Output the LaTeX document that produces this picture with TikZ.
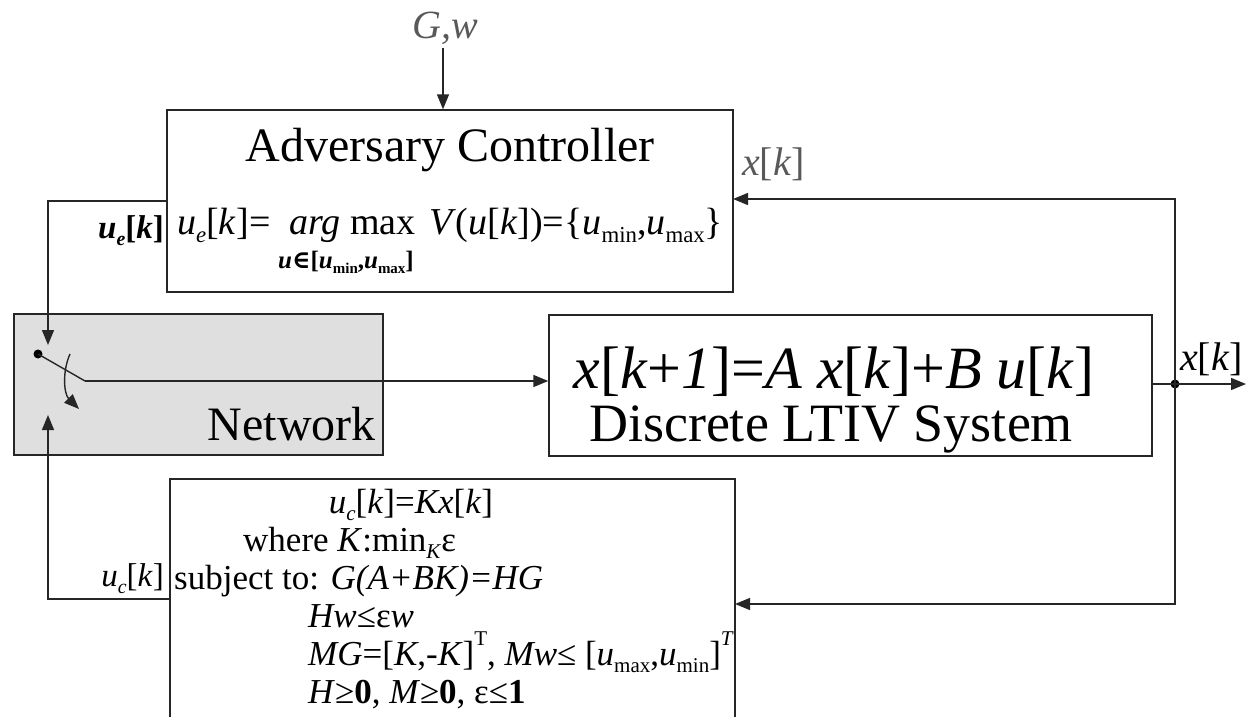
\documentclass[tikz,border=0pt]{standalone}
\usepackage{fontspec}
\usepackage{graphicx}
\setmainfont{Liberation Serif}
\newfontfamily\symfont{DejaVu Serif}
\usetikzlibrary{arrows.meta}
% lowered / raised small text for indices
\newcommand\lo[1]{\raisebox{-0.22em}{\scalebox{0.6}{#1}}}
\newcommand\hi[1]{\raisebox{0.55em}{\scalebox{0.6}{#1}}}
\newcommand\fs[1]{\fontsize{#1}{#1}\selectfont}
\newcommand\vi[1]{\textit{#1}}

\begin{document}
\begin{tikzpicture}[x=1pt,y=-1pt,
  line/.style={draw=black!85, line width=1.4pt},
  arr/.style={line, -{Triangle[length=15pt,width=12pt]}},
  box/.style={draw=black!85, line width=1.4pt, rectangle, inner sep=0pt},
  txt/.style={inner sep=0pt, anchor=base},
  lbl/.style={inner sep=0pt, text=black!65},
  jdot/.style={circle, fill=black, inner sep=0pt, minimum size=9pt},
]
\useasboundingbox (0,0) rectangle (1247,717);
\clip (0,0) rectangle (1247,717);

% blocks
\node[box, minimum width=566pt, minimum height=182pt] (adv) at (450,201) {};
\node[box, fill=gray!25, minimum width=369pt, minimum height=141pt] (net) at (198.5,384.5) {};
\node[box, minimum width=603pt, minimum height=141pt] (sys) at (850.5,385.5) {};
\node[box, minimum width=565pt, minimum height=321pt] (ctl) at (452.5,639.5) {};

% adversary controller
\node[txt, font=\fs{48}] (advtitle) at (450,161) {Adversary Controller};
\node[txt, anchor=base west, font=\fs{38}] (adveq) at (177,234)
  {\vi{u}\lo{\vi{e}}[\vi{k}]=\hspace{0.5em}\vi{arg} max\hspace{0.35em}\vi{V}(\vi{u}[\vi{k}])=\{\vi{u}\lo{min},\vi{u}\lo{max}\}};
\node[txt, anchor=base west, font=\fs{25}\bfseries] (advsub) at (278,268)
  {\vi{u}{\symfont ∈}[\vi{u}\lo{min},\vi{u}\lo{max}]};

% network
\node[txt, anchor=base east, font=\fs{48}] (nettext) at (376,440) {Network};
\node[jdot] (pivot) at (38,354) {};
\coordinate (swout) at (85,381);
\coordinate (swin) at (48,345);
\coordinate (swin2) at (48,415);
\coordinate (arcA) at (70,354);
\coordinate (arcB) at (79,409);

% plant
\node[txt, font=\fs{60}] (syseq) at (834,388)
  {\vi{x}[\vi{k}+\vi{1}]=\vi{A x}[\vi{k}]+\vi{B u}[\vi{k}]};
\node[txt, font=\fs{54}] (systext) at (831,441) {Discrete LTIV System};

% defender controller
\node[txt, font=\fs{35}] (c1) at (411,513) {\vi{u}\lo{\vi{c}}[\vi{k}]=\vi{Kx}[\vi{k}]};
\node[txt, anchor=base west, font=\fs{35}] (c2) at (243,551) {where \vi{K}:min\lo{\vi{K}}ε};
\node[txt, anchor=base west, font=\fs{35}] (c3) at (174,589) {subject to: \vi{G(A+BK)=HG}};
\node[txt, anchor=base west, font=\fs{35}] (c4) at (308,627) {\vi{Hw}≤ε\vi{w}};
\node[txt, anchor=base west, font=\fs{35}] (c5) at (308,665)
  {\vi{MG}=[\vi{K},-\vi{K}]\hi{T}, \vi{Mw}≤ [\vi{u}\lo{max},\vi{u}\lo{min}]\hi{\vi{T}}};
\node[txt, anchor=base west, font=\fs{35}] (c6) at (308,703)
  {\vi{H}≥\textbf{0}, \vi{M}≥\textbf{0}, ε≤\textbf{1}};

% signal labels
\node[lbl, anchor=base, font=\fs{40}\itshape] (gwlab) at (445,39) {G,w};
\coordinate (gw) at (443,48);
\node[lbl, anchor=base west, font=\fs{40}] (xklab) at (742,175) {\vi{x}[\vi{k}]};
\node[inner sep=0pt, anchor=base west, font=\fs{40}] (xout) at (1180,370) {\vi{x}[\vi{k}]};
\node[inner sep=0pt, anchor=base east, font=\fs{33}\bfseries] (uelab) at (164,238) {\vi{u}\lo{\vi{e}}[\vi{k}]};
\node[inner sep=0pt, anchor=base east, font=\fs{33}] (uclab) at (164,586) {\vi{u}\lo{\vi{c}}[\vi{k}]};

% connectors
\node[jdot] (jn) at (1175,384) {};
\coordinate (sysout) at (1152,384);
\coordinate (yend) at (1246,384);
\coordinate (advin) at (733,199);
\coordinate (ctlin) at (735,604);
\coordinate (ucout) at (170,599);

\draw[arr] (gw) -- (gw |- adv.north);
\draw[arr] (adv.west) -| (swin);
\draw[arr] (ucout) -| (swin2);
\draw[line] (pivot.center) -- (swout);
\draw[arr] (swout) -- (swout -| sys.west);
\draw[arr] (arcA) .. controls (62,372) and (64,394) .. (arcB);
\draw[arr] (sysout) -- (yend);
\draw[arr] (jn.center) |- (advin);
\draw[arr] (jn.center) |- (ctlin);
\end{tikzpicture}
\end{document}
